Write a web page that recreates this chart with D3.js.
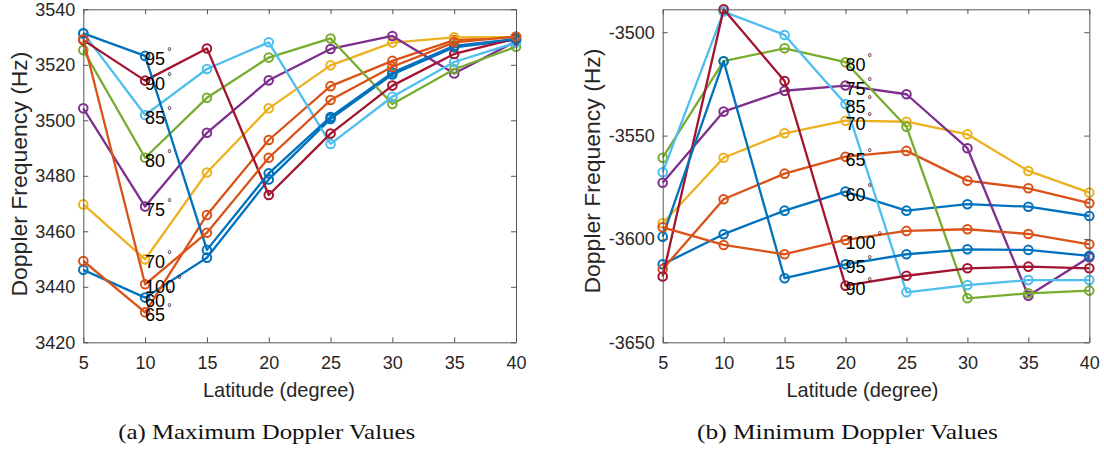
<!DOCTYPE html>
<html>
<head>
<meta charset="utf-8">
<script src="https://cdn.jsdelivr.net/npm/d3@7"></script>
<style>
  body { margin: 0; background: #fff; }
  svg { display: block; font-family: "Liberation Sans", Arial, sans-serif; }
</style>
</head>
<body>
<svg id="chart" width="1104" height="450"></svg>
<script>
// latitude on the x axis
var latitudes = [5, 10, 15, 20, 25, 30, 35, 40];
// elevation angle of each series
var angles = [60, 65, 70, 75, 80, 85, 90, 95, 100];
var xTicks = [5, 10, 15, 20, 25, 30, 35, 40];

// (a) maximum doppler, one row per angle
var maxDoppler = [
  [3446.1, 3436.1, 3450.5, 3478.7, 3500.5, 3516.5, 3526.3, 3529.0],
  [3449.3, 3430.8, 3465.9, 3492.9, 3512.3, 3521.4, 3528.9, 3530.0],
  [3469.7, 3449.9, 3481.2, 3504.3, 3519.8, 3528.0, 3529.9, 3530.0],
  [3504.3, 3468.9, 3495.5, 3514.4, 3525.7, 3530.4, 3516.9, 3528.5],
  [3525.3, 3486.5, 3508.1, 3522.6, 3529.5, 3505.9, 3518.4, 3526.5],
  [3531.5, 3501.9, 3518.5, 3528.1, 3491.5, 3508.5, 3521.0, 3528.0],
  [3528.9, 3514.3, 3525.9, 3473.1, 3495.2, 3512.5, 3523.9, 3529.5],
  [3531.3, 3523.2, 3453.3, 3480.9, 3501.2, 3517.2, 3526.8, 3529.3],
  [3529.2, 3440.9, 3459.5, 3486.5, 3507.3, 3519.3, 3528.1, 3530.2]
];
var maxTicks = [3420, 3440, 3460, 3480, 3500, 3520, 3540];

// (b) minimum doppler, one row per angle
var minDoppler = [
  [-3612.3, -3597.7, -3586.3, -3577.1, -3586.3, -3583.2, -3584.4, -3588.9],
  [-3614.6, -3580.8, -3568.4, -3560.2, -3557.4, -3571.8, -3575.5, -3582.7],
  [-3592.4, -3560.7, -3548.9, -3542.8, -3543.3, -3549.4, -3567.1, -3577.6],
  [-3572.8, -3538.4, -3528.3, -3525.8, -3530.0, -3556.1, -3627.5, -3608.9],
  [-3560.7, -3514.0, -3507.8, -3514.5, -3545.7, -3628.7, -3626.3, -3625.0],
  [-3567.7, -3490.0, -3501.3, -3534.7, -3625.8, -3622.3, -3619.9, -3619.9],
  [-3618.2, -3488.9, -3523.6, -3622.6, -3617.8, -3614.2, -3613.4, -3614.2],
  [-3598.9, -3514.0, -3619.0, -3612.3, -3607.4, -3605.0, -3605.3, -3608.2],
  [-3594.4, -3602.9, -3607.4, -3600.5, -3596.1, -3595.3, -3597.6, -3602.6]
];
var minTicks = [-3650, -3600, -3550, -3500];

var colors = ["#0072BD", "#D95319", "#EDB120", "#7E2F8E", "#77AC30",
              "#4DBEEE", "#A2142F", "#0072BD", "#D95319"];

var svg = d3.select("#chart");

function drawPanel(opt) {
  var x = d3.scaleLinear().domain([5, 40]).range([opt.left, opt.right]);
  var y = d3.scaleLinear().domain(opt.yDomain).range([opt.bottom, opt.top]);
  var g = svg.append("g");

  var line = d3.line()
    .x(function (d, i) { return x(latitudes[i]); })
    .y(function (d) { return y(d); });

  opt.series.forEach(function (vals, k) {
    var s = g.append("g");
    s.append("path")
      .attr("d", line(vals))
      .attr("fill", "none")
      .attr("stroke", colors[k])
      .attr("stroke-width", 2.3)
      .attr("stroke-linejoin", "round");
    s.selectAll("circle").data(vals).enter().append("circle")
      .attr("cx", function (d, i) { return x(latitudes[i]); })
      .attr("cy", function (d) { return y(d); })
      .attr("r", 4.3)
      .attr("fill", "none")
      .attr("stroke", colors[k])
      .attr("stroke-width", 2);
  });

  // angle labels next to the points at one latitude
  var li = latitudes.indexOf(opt.labelAt);
  opt.series.forEach(function (vals, k) {
    var t = g.append("text")
      .attr("x", x(opt.labelAt))
      .attr("y", y(vals[li]) + 9)
      .attr("font-size", 18)
      .attr("fill", "#000")
      .text(angles[k]);
    t.append("tspan")
      .attr("dx", 2)
      .attr("dy", -10)
      .attr("font-size", 11)
      .text("\u00B0");
  });

  // axes, ticks pointing inward
  var axColor = "#555";
  var fmt = function (d) { return String(d); };
  g.append("g").attr("transform", "translate(0," + opt.bottom + ")")
    .call(d3.axisBottom(x).tickValues(xTicks).tickSize(-5).tickSizeOuter(0).tickPadding(14).tickFormat(fmt));
  g.append("g").attr("transform", "translate(" + opt.left + ",0)")
    .call(d3.axisLeft(y).tickValues(opt.yTicks).tickSize(-5).tickSizeOuter(0).tickPadding(8).tickFormat(fmt));
  g.append("g").attr("transform", "translate(0," + opt.top + ")")
    .call(d3.axisTop(x).tickValues(xTicks).tickSize(-5).tickSizeOuter(0).tickFormat(""));
  g.append("g").attr("transform", "translate(" + opt.right + ",0)")
    .call(d3.axisRight(y).tickValues(opt.yTicks).tickSize(-5).tickSizeOuter(0).tickFormat(""));
  g.selectAll(".domain, .tick line").attr("stroke", axColor).attr("stroke-width", 1);
  g.selectAll(".tick text")
    .attr("font-size", 18)
    .attr("fill", "#262626")
    .attr("font-family", "Liberation Sans, Arial, sans-serif");

  g.append("text")
    .attr("x", opt.xLabelX)
    .attr("y", 397)
    .attr("text-anchor", "middle")
    .attr("font-size", 21)
    .attr("textLength", 152)
    .attr("lengthAdjust", "spacingAndGlyphs")
    .attr("fill", "#262626")
    .text("Latitude (degree)");

  g.append("text")
    .attr("transform", "translate(" + opt.yLabelX + "," + opt.yLabelY + ") rotate(-90)")
    .attr("text-anchor", "middle")
    .attr("font-size", 22)
    .attr("textLength", 245)
    .attr("lengthAdjust", "spacingAndGlyphs")
    .attr("fill", "#262626")
    .text("Doppler Frequency (Hz)");

  g.append("text")
    .attr("x", opt.captionX)
    .attr("y", 439)
    .attr("text-anchor", "middle")
    .attr("font-family", "Liberation Serif, serif")
    .attr("font-size", 22)
    .attr("textLength", opt.captionW)
    .attr("lengthAdjust", "spacingAndGlyphs")
    .attr("fill", "#111")
    .text(opt.caption);
}

drawPanel({
  left: 83.3, right: 516, top: 9.3, bottom: 342.3,
  yDomain: [3420, 3540], yTicks: maxTicks, series: maxDoppler, labelAt: 10,
  xLabelX: 279, yLabelX: 26.5, yLabelY: 174,
  captionX: 266.7, captionW: 297, caption: "(a) Maximum Doppler Values"
});

drawPanel({
  left: 662.7, right: 1089.3, top: 9.3, bottom: 342.3,
  yDomain: [-3650, -3488.9], yTicks: minTicks, series: minDoppler, labelAt: 20,
  xLabelX: 862.5, yLabelX: 600, yLabelY: 171,
  captionX: 847.5, captionW: 301, caption: "(b) Minimum Doppler Values"
});
</script>
</body>
</html>
